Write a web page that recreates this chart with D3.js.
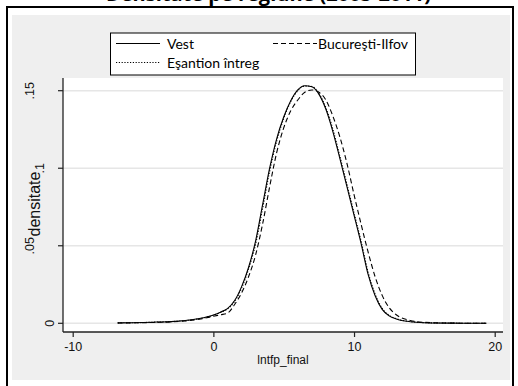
<!DOCTYPE html>
<html>
<head>
<meta charset="utf-8">
<script src="https://cdn.jsdelivr.net/npm/d3@7"></script>
<style>
  body { margin: 0; background: #fff; }
  svg { display: block; }
</style>
</head>
<body>
<div id="chart"></div>
<script>
// lntfp_final grid (x) and kernel density for each group
const xs = [-6.8, -5, -4, -3, -2, -1, 0, 0.5, 1, 1.5, 2, 2.5, 3, 3.5, 4, 4.5, 5, 5.5, 6, 6.5,
  7, 7.5, 8, 8.5, 9, 9.5, 10, 10.5, 11, 11.5, 12, 12.5, 13, 14, 15, 17, 19.4];

const vest = [0.0003, 0.0005, 0.0008, 0.0011, 0.0018, 0.0031, 0.0054, 0.0072, 0.0095, 0.0145,
  0.0235, 0.036, 0.053, 0.0765, 0.100, 0.119, 0.133, 0.1435, 0.1505, 0.1532,
  0.1525, 0.1478, 0.138, 0.1235, 0.106, 0.088, 0.0698, 0.0516, 0.0315, 0.0178,
  0.009, 0.0048, 0.0028, 0.001, 0.0004, 0.0001, 0.0];

const bucuresti = [0.0002, 0.0004, 0.0006, 0.0009, 0.0015, 0.0026, 0.0045, 0.0055, 0.0065, 0.012,
  0.0195, 0.030, 0.044, 0.064, 0.088, 0.110, 0.126, 0.137, 0.144, 0.149,
  0.1505, 0.149, 0.144, 0.1335, 0.120, 0.103, 0.083, 0.064, 0.046, 0.030,
  0.018, 0.0100, 0.0055, 0.0018, 0.0006, 0.0001, 0.0];

const esantion = [0.0003, 0.0005, 0.0008, 0.0011, 0.0017, 0.0030, 0.0052, 0.0070, 0.0092, 0.014,
  0.0225, 0.035, 0.051, 0.074, 0.098, 0.1175, 0.132, 0.143, 0.150, 0.153,
  0.1527, 0.1483, 0.139, 0.125, 0.1075, 0.0895, 0.0712, 0.053, 0.033, 0.0188,
  0.0096, 0.0051, 0.003, 0.0011, 0.0004, 0.0001, 0.0];

const xTicks = [-10, 0, 10, 20];
const yTicks = [0, 0.05, 0.1, 0.15];
const yTickLabels = ["0", ".05", ".1", ".15"];

const titleText = "Densitate pe regiune (2005-2011)";
const xTitle = "lntfp_final";
const yTitle = "densitate";

const width = 518, height = 386;

const svg = d3.select("#chart")
  .append("svg")
  .attr("width", width)
  .attr("height", height);

// outer frame + grey stata background
svg.append("rect")
  .attr("x", 12).attr("y", 15)
  .attr("width", 498).attr("height", 365)
  .attr("fill", "#efefef");

svg.append("rect")
  .attr("x", 7).attr("y", 7)
  .attr("width", 506).attr("height", 390)
  .attr("fill", "none")
  .attr("stroke", "#000")
  .attr("stroke-width", 2);

// title (only its lower edge shows above the frame, like the source)
svg.append("text")
  .attr("x", 106)
  .attr("y", 0.5)
  .text(titleText)
  .style("font", "bold 20px 'Open Sans', sans-serif")
  .attr("fill", "#000");

// plot region
const plot = { left: 63, right: 503, top: 78, bottom: 332 };

svg.append("rect")
  .attr("x", plot.left).attr("y", plot.top)
  .attr("width", plot.right - plot.left)
  .attr("height", plot.bottom - plot.top)
  .attr("fill", "#fff");

const x = d3.scaleLinear().domain([-10, 20]).range([72.7, 494.7]);
const y = d3.scaleLinear().domain([0, 0.15]).range([323.3, 90.7]);

// grid lines
svg.selectAll(".grid")
  .data(yTicks)
  .enter().append("line")
  .attr("class", "grid")
  .attr("x1", plot.left).attr("x2", plot.right)
  .attr("y1", d => y(d)).attr("y2", d => y(d))
  .attr("stroke", "#e6e6e6")
  .attr("stroke-width", 1.5);

// x axis
const xAxis = svg.append("g")
  .attr("transform", `translate(0, ${plot.bottom})`)
  .call(d3.axisBottom(x).tickValues(xTicks).tickSize(5).tickFormat(d => String(d)));
xAxis.select(".domain").remove();
xAxis.selectAll(".tick line").attr("stroke", "#222").attr("stroke-width", 1.2);
xAxis.selectAll(".tick text")
  .attr("dy", "0.9em")
  .style("font", "12.5px 'Liberation Sans', Arial, sans-serif")
  .attr("fill", "#111");

svg.append("line")
  .attr("x1", plot.left).attr("x2", plot.right)
  .attr("y1", plot.bottom).attr("y2", plot.bottom)
  .attr("stroke", "#222").attr("stroke-width", 1.3);

svg.append("text")
  .attr("x", (plot.left + plot.right) / 2)
  .attr("y", 364)
  .attr("text-anchor", "middle")
  .text(xTitle)
  .style("font", "12px 'Liberation Sans', Arial, sans-serif")
  .attr("fill", "#111");

// y axis
svg.append("line")
  .attr("x1", plot.left).attr("x2", plot.left)
  .attr("y1", plot.top).attr("y2", plot.bottom)
  .attr("stroke", "#222").attr("stroke-width", 1.3);

svg.selectAll(".ytick")
  .data(yTicks)
  .enter().append("line")
  .attr("class", "ytick")
  .attr("x1", plot.left - 5).attr("x2", plot.left)
  .attr("y1", d => y(d)).attr("y2", d => y(d))
  .attr("stroke", "#222").attr("stroke-width", 1.2);

svg.selectAll(".ylabel")
  .data(yTicks)
  .enter().append("text")
  .attr("class", "ylabel")
  .attr("text-anchor", "middle")
  .attr("transform", (d, i) => {
    const bx = 64 - 10 * yTickLabels[i].length;
    return `translate(${bx}, ${y(d)}) rotate(-90)`;
  })
  .text((d, i) => yTickLabels[i])
  .style("font", "12.5px 'Liberation Sans', Arial, sans-serif")
  .attr("fill", "#111");

svg.append("text")
  .attr("text-anchor", "middle")
  .attr("transform", `translate(40, 204) rotate(-90)`)
  .text(yTitle)
  .style("font", "16px 'Liberation Sans', Arial, sans-serif")
  .attr("fill", "#111");

// density curves
const series = [
  { name: "Vest", values: vest, dash: null },
  { name: "Eşantion întreg", values: esantion, dash: "1.2,1.6" },
  { name: "Bucureşti-Ilfov", values: bucuresti, dash: "5,3" }
];

const line = d3.line()
  .x(d => x(d[0]))
  .y(d => y(d[1]))
  .curve(d3.curveMonotoneX);

svg.selectAll(".curve")
  .data(series)
  .enter().append("path")
  .attr("class", "curve")
  .attr("d", s => line(xs.map((v, i) => [v, s.values[i]])))
  .attr("fill", "none")
  .attr("stroke", "#000")
  .attr("stroke-width", 1.1)
  .attr("stroke-dasharray", s => s.dash);

// legend
const lg = svg.append("g");
lg.append("rect")
  .attr("x", 110.5).attr("y", 33)
  .attr("width", 305).attr("height", 42)
  .attr("fill", "#fff")
  .attr("stroke", "#000")
  .attr("stroke-width", 1);

const legendPos = [
  { lx: 116, ly: 43.5, tx: 167, ty: 48.5 },
  { lx: 116, ly: 62.5, tx: 167, ty: 67.5 },
  { lx: 273, ly: 43.5, tx: 318, ty: 48.5 }
];

series.forEach((s, i) => {
  const p = legendPos[i];
  lg.append("line")
    .attr("x1", p.lx).attr("x2", p.lx + 44)
    .attr("y1", p.ly).attr("y2", p.ly)
    .attr("stroke", "#000")
    .attr("stroke-width", 1)
    .attr("stroke-dasharray", s.dash);
  const t = lg.append("text")
    .attr("x", p.tx).attr("y", p.ty)
    .text(s.name)
    .style("font", "14px Lato, sans-serif")
    .attr("fill", "#000");
  if (i === 1) {
    // text sits on a white patch that breaks the box border
    const bb = t.node().getBBox();
    lg.insert("rect", "text")
      .attr("x", bb.x).attr("y", bb.y)
      .attr("width", bb.width).attr("height", bb.height + 1)
      .attr("fill", "#fff");
  }
});
</script>
</body>
</html>
